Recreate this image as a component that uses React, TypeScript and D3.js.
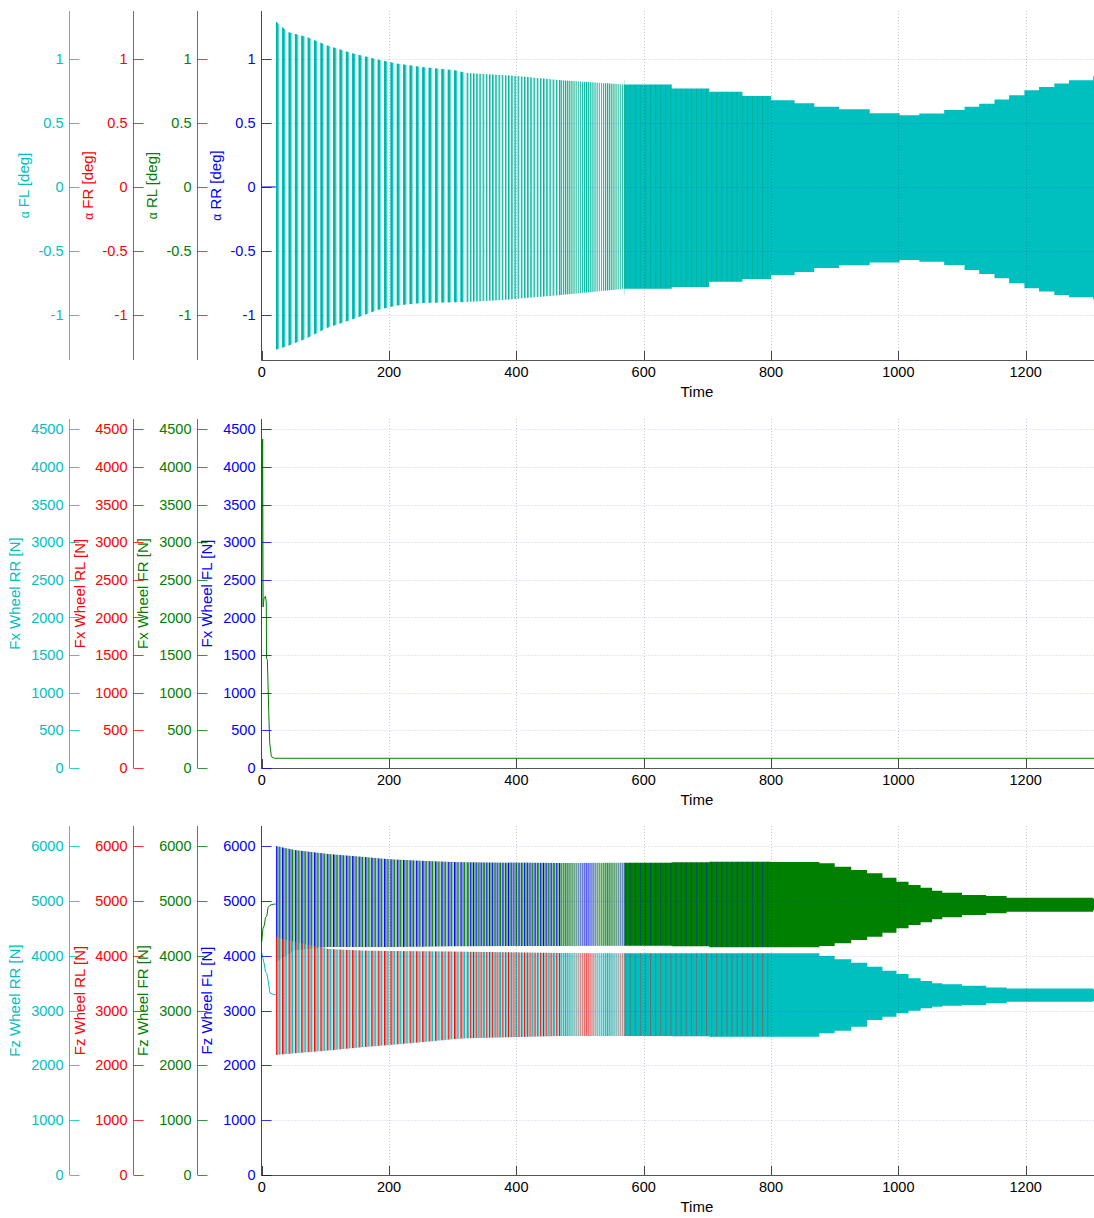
import React from 'react';
import * as d3 from 'd3';

const W = 1094;
const H = 1218;
const CYAN = '#00BFBF';
const RED = '#FF0000';
const GREEN = '#008000';
const BLUE = '#0000FF';
const PALE: Record<string, string> = { [CYAN]: '#8FE3E3', [RED]: '#FF9A9A', [GREEN]: '#8CC68C', [BLUE]: '#9A9AFF' };

// ---------------- data ----------------
const timeTicks = [0, 200, 400, 600, 800, 1000, 1200];
const timeMax = 1367;

// oscillation segments (time) and their apparent oscillation period
const oscSegT0 = [22, 322, 470, 570, 800];
const oscSegT1 = [322, 470, 570, 800, 1367];
const oscPeriod = [10, 5, 3.3, 8, 0];
const oscMode = ['stripes', 'stripes', 'stripes', 'mixed', 'solid'];

// slip angles (all four wheels overlap)
const alphaTicks = [-1, -0.5, 0, 0.5, 1];
const alphaMin = -1.35;
const alphaMax = 1.373;
const alphaPreT = [0, 22];
const alphaPreV = [0, 0];
const alphaT = [22, 41, 71, 102, 141, 182, 212, 251, 303, 322, 397, 470, 570, 644, 703, 755, 800, 837, 868, 907, 955, 1002, 1033, 1072, 1104, 1127, 1151, 1174, 1198, 1221, 1245, 1268, 1306, 1367];
const alphaHi = [1.294, 1.21, 1.17, 1.105, 1.045, 0.994, 0.963, 0.937, 0.91, 0.89, 0.867, 0.833, 0.8, 0.768, 0.742, 0.71, 0.677, 0.654, 0.625, 0.607, 0.576, 0.56, 0.574, 0.6, 0.625, 0.65, 0.683, 0.716, 0.755, 0.78, 0.807, 0.833, 0.864, 0.9];
const alphaLo = [-1.27, -1.24, -1.18, -1.1, -1.035, -0.96, -0.925, -0.905, -0.9, -0.897, -0.875, -0.842, -0.795, -0.78, -0.74, -0.718, -0.686, -0.663, -0.632, -0.61, -0.59, -0.57, -0.583, -0.608, -0.647, -0.679, -0.712, -0.751, -0.79, -0.816, -0.842, -0.86, -0.876, -0.91];

// longitudinal force
const fxTicks = [0, 500, 1000, 1500, 2000, 2500, 3000, 3500, 4000, 4500];
const fxMax = 4637;
const fxT = [0, 1.5, 2.2, 3.6, 5.8, 7.2, 7.6, 8.9, 11, 12.6, 15.2, 20.4, 1367];
const fxFR = [2140, 4370, 2140, 2250, 2281, 2206, 1453, 1440, 770, 328, 150, 129, 129];

// vertical force
const fzTicks = [0, 1000, 2000, 3000, 4000, 5000, 6000];
const fzMax = 6365;
const fzPreT = [0, 2, 4, 6, 8, 10, 13, 19, 22];
const fzPreFR = [4250, 4500, 4550, 4700, 4720, 4880, 4920, 4940, 4940];
const fzPreRR = [4050, 3950, 3850, 3700, 3680, 3550, 3320, 3290, 3290];
const fzT = [22, 52, 105, 157, 201, 250, 300, 322, 470, 570, 644, 703, 755, 800, 876, 900, 926, 951, 975, 997, 1016, 1035, 1053, 1069, 1100, 1138, 1170, 1306, 1367];
const fzFrontHi = [6000, 5927, 5854, 5805, 5757, 5730, 5709, 5703, 5690, 5695, 5705, 5712, 5714, 5710, 5685, 5623, 5563, 5502, 5422, 5349, 5289, 5240, 5185, 5148, 5106, 5088, 5057, 5040, 5030];
const fzFrontLo = [3880, 4100, 4160, 4160, 4160, 4165, 4170, 4172, 4177, 4180, 4170, 4153, 4153, 4153, 4176, 4225, 4286, 4346, 4419, 4499, 4560, 4608, 4663, 4700, 4742, 4773, 4802, 4830, 4840];
const fzRearHi = [4346, 4250, 4120, 4095, 4085, 4080, 4075, 4070, 4050, 4043, 4043, 4043, 4043, 4043, 3994, 3934, 3872, 3800, 3727, 3666, 3587, 3538, 3496, 3480, 3452, 3420, 3400, 3387, 3380];
const fzRearLo = [2190, 2220, 2272, 2328, 2371, 2420, 2475, 2493, 2535, 2535, 2530, 2522, 2520, 2520, 2584, 2632, 2705, 2827, 2887, 2949, 2997, 3040, 3070, 3085, 3100, 3131, 3160, 3175, 3180];

// ---------------- layout ----------------
const xS = d3.scaleLinear().domain([0, timeMax]).range([261.7, 1132]);
const kx = xS(1) - xS(0);
const MAIN_X = 261.5;
const EXTRA_X = [69.5, 133.5, 197.5];

type Seg = { t0: number; t1: number; period: number; mode: string };
const segs: Seg[] = oscSegT0.map((t0, i) => ({ t0, t1: oscSegT1[i], period: oscPeriod[i], mode: oscMode[i] }));

type Fill = { solid?: string; P?: number; rects?: [number, number, string][]; opacity?: number } | null;
type Paths = { lin: string; step: string };

function envPaths(T: number[], hi: number[], lo: number[], y: d3.ScaleLinear<number, number>): Paths {
  const idx = d3.range(T.length);
  const gen = d3
    .area<number>()
    .x((i) => xS(T[i]))
    .y0((i) => y(lo[i]))
    .y1((i) => y(hi[i]));
  return { lin: gen.curve(d3.curveLinear)(idx) || '', step: gen.curve(d3.curveStepAfter)(idx) || '' };
}

function linePath(T: number[], V: number[], y: d3.ScaleLinear<number, number>) {
  const idx = d3.range(T.length);
  return d3.line<number>().x((i) => xS(T[i])).y((i) => y(V[i]))(idx) || '';
}

function layerEls(id: string, p: Paths, fillFor: (s: Seg) => Fill, defs: React.ReactNode[], out: React.ReactNode[]) {
  segs.forEach((s, i) => {
    const f = fillFor(s);
    if (!f) return;
    const x0 = xS(s.t0);
    const x1 = xS(s.t1);
    const cid = `${id}-c${i}`;
    defs.push(
      <clipPath key={cid} id={cid}>
        <rect x={x0} y={0} width={x1 - x0 + 0.4} height={H} />
      </clipPath>
    );
    let fill = f.solid;
    if (!fill) {
      const pid = `${id}-p${i}`;
      defs.push(
        <pattern key={pid} id={pid} patternUnits="userSpaceOnUse" x={x0} y={0} width={f.P} height={H}>
          {(f.rects || []).map((r, j) => (
            <rect key={j} x={r[0]} y={0} width={r[1]} height={H} fill={r[2]} />
          ))}
        </pattern>
      );
      fill = `url(#${pid})`;
    }
    const d = s.mode === 'stripes' ? p.lin : p.step;
    out.push(<path key={`${id}-a${i}`} d={d} fill={fill} clipPath={`url(#${cid})`} opacity={f.opacity ?? 1} />);
  });
}

const topStripe = (color: string) => (s: Seg): Fill => {
  if (s.mode === 'stripes') {
    const P = s.period * kx;
    return { P, rects: [[0, 0.42 * P, color], [0.42 * P, 0.2 * P, PALE[color]]] };
  }
  return { solid: color };
};
const topOverlay = (color: string) => (s: Seg): Fill => {
  if (s.mode === 'stripes') {
    const P = s.period * kx;
    return { P, rects: [[0.12 * P, 0.8, color]], opacity: 0.3 };
  }
  if (s.mode === 'mixed') {
    const P = s.period * kx;
    return { P, rects: [[0, 1, color]], opacity: 0.22 };
  }
  return null;
};
const backStripe = (color: string) => (s: Seg): Fill => {
  if (s.mode !== 'stripes') return null;
  const P = s.period * kx;
  return { P, rects: [[0, 0.25 * P, color], [0.25 * P, 0.25 * P, PALE[color]]] };
};
const frontStripe = (color: string) => (s: Seg): Fill => {
  if (s.mode !== 'stripes') return { solid: color };
  const P = s.period * kx;
  return { P, rects: [[0.5 * P, 0.25 * P, color], [0.75 * P, 0.2 * P, PALE[color]]] };
};
const backOverlay = (color: string) => (s: Seg): Fill => {
  if (s.mode !== 'mixed') return null;
  const P = s.period * kx;
  return { P, rects: [[0, 1, color]], opacity: 0.4 };
};

type AxisSpec = { color: string; label: React.ReactNode; lx: number };

function Axes(props: {
  y: d3.ScaleLinear<number, number>;
  ticks: number[];
  top: number;
  bottom: number;
  axes: AxisSpec[];
}) {
  const { y, ticks, top, bottom, axes } = props;
  const xs = [...EXTRA_X, MAIN_X];
  const mid = (top + bottom) / 2;
  return (
    <g>
      {ticks.map((t) => (
        <line key={`hg${t}`} x1={MAIN_X} x2={W} y1={Math.round(y(t)) + 0.5} y2={Math.round(y(t)) + 0.5} stroke={BLUE} strokeOpacity={0.2} strokeDasharray="1 2" />
      ))}
      {timeTicks.slice(1).map((t) => (
        <line key={`vg${t}`} x1={Math.round(xS(t)) + 0.5} x2={Math.round(xS(t)) + 0.5} y1={top} y2={bottom} stroke="#000" strokeOpacity={0.2} strokeDasharray="1 2" />
      ))}
      <line x1={MAIN_X} x2={W} y1={bottom + 0.5} y2={bottom + 0.5} stroke="#555" />
      {timeTicks.map((t) => (
        <g key={`xt${t}`}>
          <line x1={Math.round(xS(t)) + 0.5} x2={Math.round(xS(t)) + 0.5} y1={bottom} y2={bottom - 9} stroke="#444" />
          <text x={xS(t)} y={bottom + 7} dy="0.71em" textAnchor="middle" fontSize={14.5} fill="#000">
            {t}
          </text>
        </g>
      ))}
      <text x={(xS.range()[0] + xS.range()[1]) / 2} y={bottom + 26} dy="0.71em" textAnchor="middle" fontSize={15} fill="#000">
        Time
      </text>
      {axes.map((a, k) => (
        <g key={`ya${k}`}>
          <line x1={xs[k]} x2={xs[k]} y1={top} y2={bottom + (k === 3 ? 0.5 : 0)} stroke={a.color} strokeOpacity={0.8} />
          {ticks.map((t) => (
            <g key={t}>
              <line x1={xs[k]} x2={xs[k] + 10} y1={Math.round(y(t)) + 0.5} y2={Math.round(y(t)) + 0.5} stroke={a.color} strokeOpacity={0.8} />
              <text x={xs[k] - 6} y={y(t)} dy="0.35em" textAnchor="end" fontSize={14.5} fill={a.color}>
                {t}
              </text>
            </g>
          ))}
          <text transform={`translate(${a.lx},${mid}) rotate(-90)`} dy="0.35em" textAnchor="middle" fontSize={15} fill={a.color}>
            {a.label}
          </text>
        </g>
      ))}
    </g>
  );
}

function alphaLabel(name: string) {
  return (
    <>
      <tspan fontSize={12}>α</tspan> {name} [deg]
    </>
  );
}

export default function App() {
  const defs: React.ReactNode[] = [];

  // ---- top plot ----
  const TOP = [11, 360];
  const yA = d3.scaleLinear().domain([alphaMin, alphaMax]).range([TOP[1], TOP[0]]);
  const aPaths = envPaths(alphaT, alphaHi, alphaLo, yA);
  const topMarks: React.ReactNode[] = [];
  layerEls('aFL', aPaths, topStripe(CYAN), defs, topMarks);
  layerEls('aRL', aPaths, topOverlay(GREEN), defs, topMarks);

  // ---- middle plot ----
  const MID = [419, 768];
  const yX = d3.scaleLinear().domain([0, fxMax]).range([MID[1], MID[0]]);

  // ---- bottom plot ----
  const BOT = [826, 1175];
  const yZ = d3.scaleLinear().domain([0, fzMax]).range([BOT[1], BOT[0]]);
  const frontPaths = envPaths(fzT, fzFrontHi, fzFrontLo, yZ);
  const rearPaths = envPaths(fzT, fzRearHi, fzRearLo, yZ);
  const botMarks: React.ReactNode[] = [];
  layerEls('zFL', frontPaths, backStripe(BLUE), defs, botMarks);
  layerEls('zRL', rearPaths, backStripe(RED), defs, botMarks);
  layerEls('zFR', frontPaths, frontStripe(GREEN), defs, botMarks);
  layerEls('zRR', rearPaths, frontStripe(CYAN), defs, botMarks);
  layerEls('zFLo', frontPaths, backOverlay(BLUE), defs, botMarks);
  layerEls('zRLo', rearPaths, backOverlay(RED), defs, botMarks);

  return (
    <div style={{ position: 'absolute', left: 0, top: 0, width: W, height: H, overflow: 'hidden', background: '#fff' }}>
      <svg width={W} height={H} style={{ display: 'block', fontFamily: '"Liberation Sans", Arial, Helvetica, sans-serif' }}>
        <defs>{defs}</defs>
        <g>
          {topMarks}
          <path d={linePath(alphaPreT, alphaPreV, yA)} fill="none" stroke={BLUE} strokeWidth={1} />
          <Axes
            y={yA}
            ticks={alphaTicks}
            top={TOP[0]}
            bottom={TOP[1]}
            axes={[
              { color: CYAN, label: alphaLabel('FL'), lx: 24 },
              { color: RED, label: alphaLabel('FR'), lx: 88 },
              { color: GREEN, label: alphaLabel('RL'), lx: 152 },
              { color: BLUE, label: alphaLabel('RR'), lx: 216 },
            ]}
          />
        </g>
        <g>
          <path d={linePath(fxT, fxFR, yX)} fill="none" stroke={GREEN} strokeWidth={1} />
          <Axes
            y={yX}
            ticks={fxTicks}
            top={MID[0]}
            bottom={MID[1]}
            axes={[
              { color: CYAN, label: 'Fx Wheel RR [N]', lx: 15 },
              { color: RED, label: 'Fx Wheel RL [N]', lx: 80 },
              { color: GREEN, label: 'Fx Wheel FR [N]', lx: 143 },
              { color: BLUE, label: 'Fx Wheel FL [N]', lx: 207 },
            ]}
          />
        </g>
        <g>
          {botMarks}
          <path d={linePath(fzPreT, fzPreFR, yZ)} fill="none" stroke={GREEN} strokeWidth={1} />
          <path d={linePath(fzPreT, fzPreRR, yZ)} fill="none" stroke={CYAN} strokeWidth={1} />
          <Axes
            y={yZ}
            ticks={fzTicks}
            top={BOT[0]}
            bottom={BOT[1]}
            axes={[
              { color: CYAN, label: 'Fz Wheel RR [N]', lx: 15 },
              { color: RED, label: 'Fz Wheel RL [N]', lx: 80 },
              { color: GREEN, label: 'Fz Wheel FR [N]', lx: 143 },
              { color: BLUE, label: 'Fz Wheel FL [N]', lx: 207 },
            ]}
          />
        </g>
      </svg>
    </div>
  );
}
